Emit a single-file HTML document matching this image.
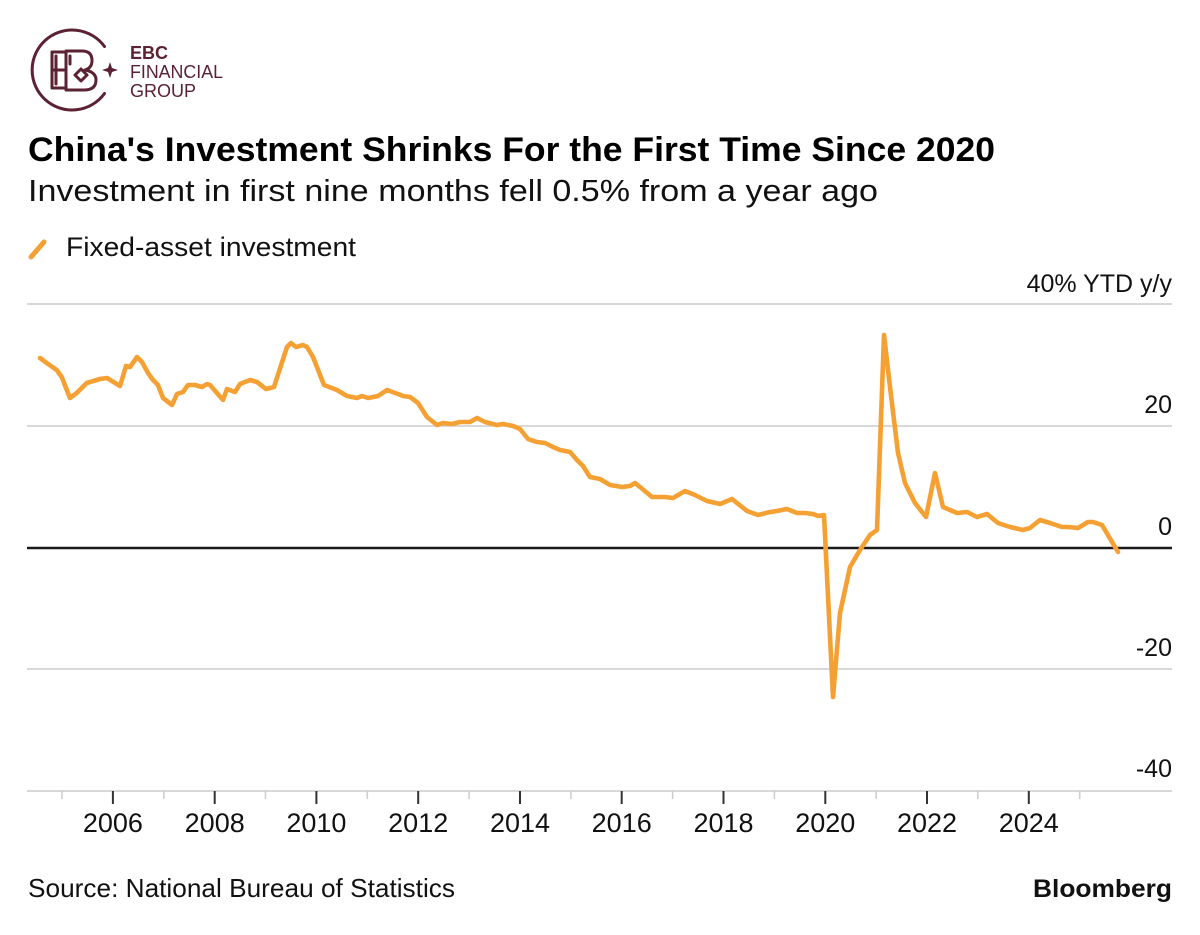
<!DOCTYPE html>
<html>
<head>
<meta charset="utf-8">
<style>
  html,body{margin:0;padding:0;background:#fff;}
  svg{display:block;}
  text{font-family:"Liberation Sans",Arial,sans-serif;}
</style>
</head>
<body>
<svg width="1200" height="935" viewBox="0 0 1200 935" xmlns="http://www.w3.org/2000/svg">
  <rect x="0" y="0" width="1200" height="935" fill="#ffffff"/>

  <!-- Logo -->
  <g fill="none" stroke="#5a2232" stroke-width="3" stroke-linecap="round" stroke-linejoin="round">
    <path d="M 104.5 46.5 A 40 40 0 1 0 104.5 93.5"/>
    <path d="M 66 52 H 52 V 88 H 66"/>
    <path d="M 56 56 V 84"/>
    <path d="M 52 70 H 64"/>
    <path d="M 66 51 H 82 Q 92 51 92 60.5 Q 92 68 85 70 Q 96 72 96 80 Q 96 90 84 90 H 66 Z"/>
    <path d="M 70 56 V 64"/>
    <path d="M 75 75 L 81 69 L 87 75 L 81 81 Z"/>
  </g>
  <path d="M 110 62 L 112 68 L 118 70 L 112 72 L 110 78 L 108 72 L 102 70 L 108 68 Z" fill="#5a2232"/>
  <text x="130" y="59" font-size="18" font-weight="bold" fill="#5a2232">EBC</text>
  <text x="130" y="78" font-size="18" fill="#5a2232" textLength="93" lengthAdjust="spacingAndGlyphs">FINANCIAL</text>
  <text x="130" y="97" font-size="18" fill="#5a2232" textLength="66" lengthAdjust="spacingAndGlyphs">GROUP</text>

  <!-- Title -->
  <text x="28" y="161" font-size="34" font-weight="bold" fill="#000" textLength="967" lengthAdjust="spacingAndGlyphs">China's Investment Shrinks For the First Time Since 2020</text>
  <text x="28" y="201" font-size="31" fill="#111" textLength="850" lengthAdjust="spacingAndGlyphs">Investment in first nine months fell 0.5% from a year ago</text>

  <!-- Legend -->
  <line x1="31" y1="257" x2="44" y2="242" stroke="#f5a032" stroke-width="5" stroke-linecap="round"/>
  <text x="66" y="256" font-size="27" fill="#111" textLength="290" lengthAdjust="spacingAndGlyphs">Fixed-asset investment</text>

  <!-- Gridlines -->
  <g stroke="#cccccc" stroke-width="1.5">
    <line x1="27" y1="304" x2="1172" y2="304"/>
    <line x1="27" y1="426" x2="1172" y2="426"/>
    <line x1="27" y1="669" x2="1172" y2="669"/>
    <line x1="27" y1="791" x2="1172" y2="791"/>
  </g>
  <line x1="27" y1="548" x2="1172" y2="548" stroke="#1a1a1a" stroke-width="2.5"/>

  <!-- Right axis labels -->
  <g font-size="25" fill="#111" text-anchor="end">
    <text x="1172" y="292">40% YTD y/y</text>
    <text x="1172" y="413">20</text>
    <text x="1172" y="535">0</text>
    <text x="1172" y="656">-20</text>
    <text x="1172" y="777">-40</text>
  </g>

  <!-- X ticks -->
  <g stroke="#cccccc" stroke-width="1.5">
    <line x1="62.0" y1="791" x2="62.0" y2="799"/>
    <line x1="163.8" y1="791" x2="163.8" y2="799"/>
    <line x1="265.5" y1="791" x2="265.5" y2="799"/>
    <line x1="367.3" y1="791" x2="367.3" y2="799"/>
    <line x1="469.1" y1="791" x2="469.1" y2="799"/>
    <line x1="570.9" y1="791" x2="570.9" y2="799"/>
    <line x1="672.6" y1="791" x2="672.6" y2="799"/>
    <line x1="774.4" y1="791" x2="774.4" y2="799"/>
    <line x1="876.2" y1="791" x2="876.2" y2="799"/>
    <line x1="977.9" y1="791" x2="977.9" y2="799"/>
    <line x1="1079.7" y1="791" x2="1079.7" y2="799"/>
  </g>
  <g stroke="#333333" stroke-width="2">
    <line x1="112.9" y1="791" x2="112.9" y2="804"/>
    <line x1="214.7" y1="791" x2="214.7" y2="804"/>
    <line x1="316.4" y1="791" x2="316.4" y2="804"/>
    <line x1="418.2" y1="791" x2="418.2" y2="804"/>
    <line x1="520.0" y1="791" x2="520.0" y2="804"/>
    <line x1="621.7" y1="791" x2="621.7" y2="804"/>
    <line x1="723.5" y1="791" x2="723.5" y2="804"/>
    <line x1="825.3" y1="791" x2="825.3" y2="804"/>
    <line x1="927.0" y1="791" x2="927.0" y2="804"/>
    <line x1="1028.8" y1="791" x2="1028.8" y2="804"/>
  </g>
  <g font-size="27" fill="#111" text-anchor="middle">
    <text x="112.9" y="832">2006</text>
    <text x="214.7" y="832">2008</text>
    <text x="316.4" y="832">2010</text>
    <text x="418.2" y="832">2012</text>
    <text x="520.0" y="832">2014</text>
    <text x="621.7" y="832">2016</text>
    <text x="723.5" y="832">2018</text>
    <text x="825.3" y="832">2020</text>
    <text x="927.0" y="832">2022</text>
    <text x="1028.8" y="832">2024</text>
  </g>

  <!-- Series -->
  <polyline fill="none" stroke="#f5a032" stroke-width="4.6" stroke-linejoin="round" stroke-linecap="round"
    points="40,358 46.7,363 56.7,370 61.7,377 70,398 76.7,393 86.7,383 100,379 107,378 120,386 126,366 130,367 137,357 142,362 148,373 153,380 158,385 163,398 172,405 177,394 183,392 188,385 195,385 202,387 207,384 210,385 223,400 227,389 235,392 240,384 250,380 257,382 266,389 274,387 287,347 291,343 296,347 303,345 307,347 313,357 324,385 337,390 347,396 357,398 362,396 368,398 378,396 387,390 398,394 403,396 410,397 418,403 427,417 437,425 443,423 452,424 460,422 470,422 477,418 485,422 497,425 503,424 513,426 520,429 528,439 537,442 545,443 553,447 560,450 570,452 577,460 583,466 590,477 600,479 610,485 622,487 630,486 635,483 640,487 652,497 665,497 673,498 685,491 695,495 707,501 720,504 732,499 747,511 758,515 770,512 777,511 787,509 797,513 805,513 813,514 818,516 824,515 833,697 840,613 850,567 860,550 870,535 877,530 884,335 890,387 898,453 905,483 915,503 926,517 935,473 943,507 950,510 957,513 967,512 977,517 987,514 998,523 1010,527 1023,530 1030,528 1040,520 1050,523 1062,527 1068,527 1078,528 1088,522 1093,522 1102,525 1118,552"/>

  <!-- Footer -->
  <text x="28" y="897" font-size="26" fill="#111" textLength="427" lengthAdjust="spacingAndGlyphs">Source: National Bureau of Statistics</text>
  <text x="1172" y="897" font-size="25" font-weight="bold" fill="#111" text-anchor="end" textLength="139" lengthAdjust="spacingAndGlyphs">Bloomberg</text>
</svg>
</body>
</html>
